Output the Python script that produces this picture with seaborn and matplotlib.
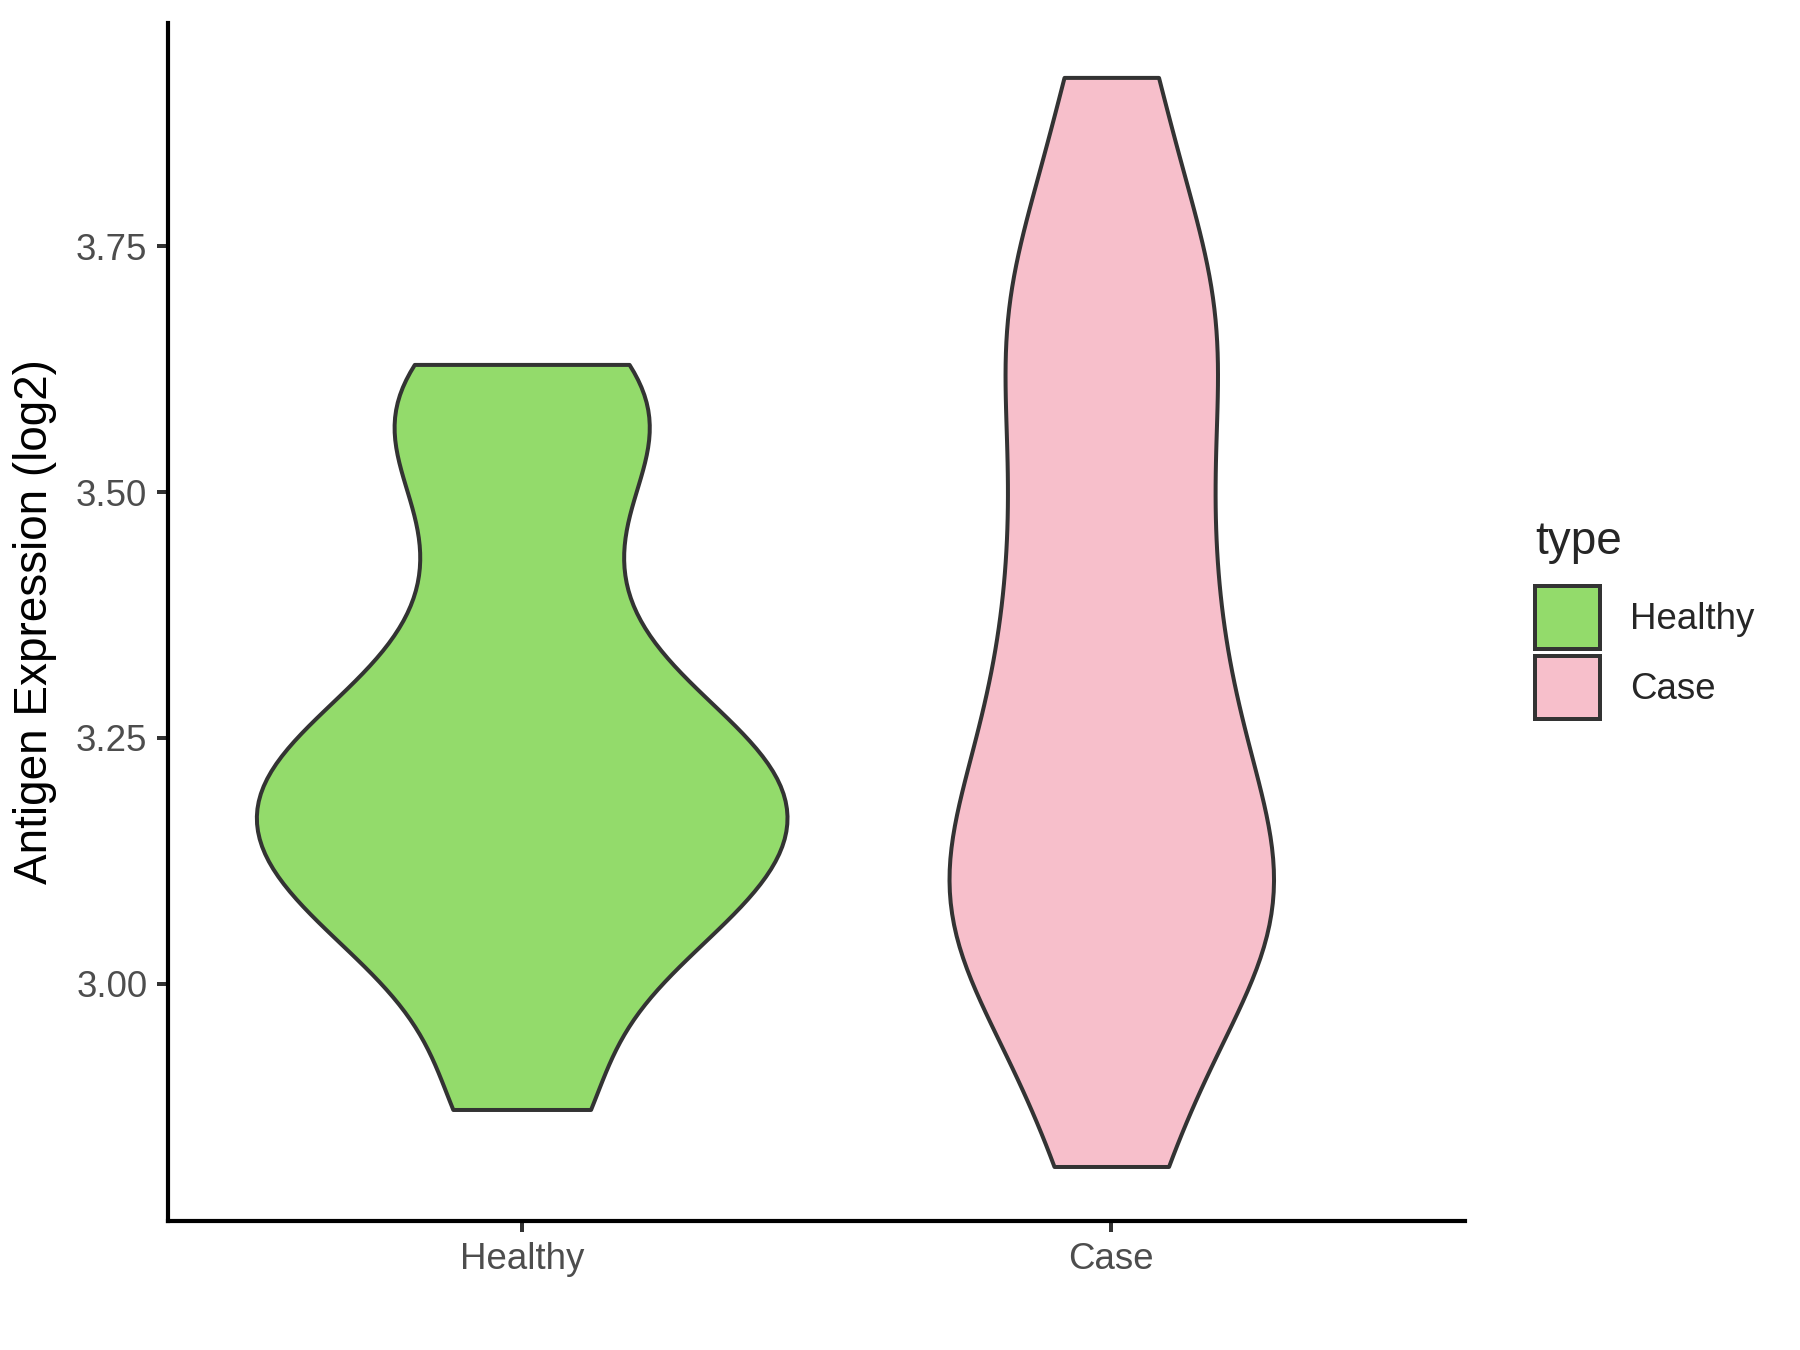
import numpy as np
import pandas as pd
import matplotlib
matplotlib.use("Agg")
import matplotlib.pyplot as plt
import matplotlib.patches as mpatches
import seaborn as sns

# values (log2 antigen expression)
healthy_vals = [2.872, 3.00, 3.07, 3.11, 3.13, 3.18, 3.21, 3.24, 3.28, 3.38, 3.50, 3.58, 3.63]
case_vals = [2.814, 2.94, 3.01, 3.07, 3.08, 3.12, 3.17, 3.27, 3.28, 3.40, 3.46, 3.56, 3.64, 3.70, 3.77, 3.922]
groups = ["Healthy", "Case"]
colors = ["#93DB6B", "#F7BFCB"]
y_ticks = [3.00, 3.25, 3.50, 3.75]

df = pd.DataFrame({
    "type": ["Healthy"] * len(healthy_vals) + ["Case"] * len(case_vals),
    "value": healthy_vals + case_vals,
})

sns.set_style("white")
plt.rcParams["font.family"] = ["Liberation Sans", "DejaVu Sans"]

fig = plt.figure(figsize=(6, 4.5), dpi=300)
ax = fig.add_axes([0.0933, 0.0956, 0.7206, 0.8874])

# trimmed violins, all with the same area (like ggplot's geom_violin default)
sns.violinplot(
    data=df, x="type", y="value", hue="type", order=groups, hue_order=groups,
    palette=dict(zip(groups, colors)), saturation=1, cut=0, inner=None,
    density_norm="area", common_norm=True, width=0.9, bw_method=0.3557,
    linewidth=0.96, linecolor="#333333", legend=False, ax=ax,
)

# ggplot-like limits (5% expansion on y, 0.6 on discrete x)
lo, hi = min(df["value"]), max(df["value"])
pad = 0.05 * (hi - lo)
ax.set_ylim(lo - pad, hi + pad)
ax.set_xlim(-0.6, 1.6)
ax.set_yticks(y_ticks)
ax.set_yticklabels([f"{t:.2f}" for t in y_ticks])

ax.set_xlabel("")
ax.set_ylabel("Antigen Expression (log2)", fontsize=11, color="black", labelpad=4.5)
ax.tick_params(axis="both", labelsize=8.8, labelcolor="#4D4D4D", color="#333333",
               length=2.75, width=0.96, pad=2.2, left=True, bottom=True)

sns.despine(ax=ax)
for s in ["left", "bottom"]:
    ax.spines[s].set_color("black")
    ax.spines[s].set_linewidth(1.0)

# legend on the right, ggplot style
handles = [mpatches.Patch(facecolor=c, edgecolor="#333333", linewidth=0.96, label=g)
           for g, c in zip(groups, colors)]
leg = fig.legend(handles=handles, title="type", loc="upper left",
                 bbox_to_anchor=(0.853, 0.615), frameon=False, fontsize=8.8,
                 title_fontsize=11, handlelength=1.77, handleheight=2.25,
                 handletextpad=0.8, labelspacing=0.2, borderpad=0, borderaxespad=0,
                 alignment="left")
leg._legend_box.sep = 5.4  # more room under the title

fig.savefig("out.png", dpi=300)
